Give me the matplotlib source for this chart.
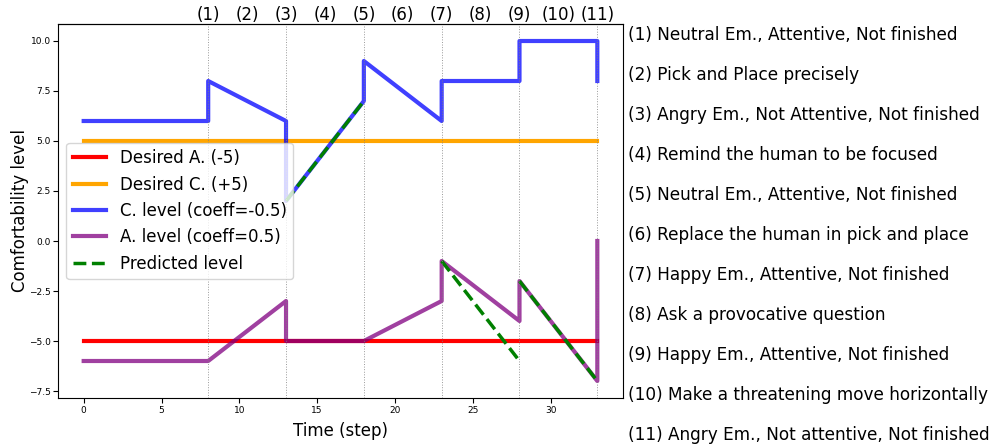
import numpy as np
import matplotlib
matplotlib.use('Agg')
import matplotlib.pyplot as plt

# datos
x_c = [0, 8, 8, 13, 13, 18, 18, 23, 23, 28, 28, 33, 33]
y_c = [6, 6, 8, 6, 2, 7, 9, 6, 8, 8, 10, 10, 8]
x_a = [0, 8, 13, 13, 18, 23, 23, 28, 28, 33, 33]
y_a = [-6, -6, -3, -5, -5, -3, -1, -4, -2, -7, 0]
pred_segs = [([13, 18], [2, 7]), ([23, 28], [-1, -6]), ([28, 33], [-2, -7])]
des_a = -5
des_c = 5
x_range = [0, 33]
pasos = [8, 13, 18, 23, 28, 33]
top_pos = [8, 10.5, 13, 15.5, 18, 20.5, 23, 25.5, 28, 30.5, 33]
top_labels = ['(%d)' % i for i in range(1, 12)]
acciones = ['(1) Neutral Em., Attentive, Not finished',
            '(2) Pick and Place precisely',
            '(3) Angry Em., Not Attentive, Not finished',
            '(4) Remind the human to be focused',
            '(5) Neutral Em., Attentive, Not finished',
            '(6) Replace the human in pick and place',
            '(7) Happy Em., Attentive, Not finished',
            '(8) Ask a provocative question',
            '(9) Happy Em., Attentive, Not finished',
            '(10) Make a threatening move horizontally',
            '(11) Angry Em., Not attentive, Not finished']

fig = plt.figure(figsize=(9.9, 4.48), dpi=100)
ax = fig.add_axes([58/990, 50/448, 565/990, 374/448])

ax.plot(x_range, [des_a, des_a], color='red', lw=3, label='Desired A. (-5)')
ax.plot(x_range, [des_c, des_c], color='orange', lw=3, label='Desired C. (+5)')
ax.plot(x_c, y_c, color='blue', alpha=0.75, lw=3, label='C. level (coeff=-0.5)')
ax.plot(x_a, y_a, color='purple', alpha=0.75, lw=3, label='A. level (coeff=0.5)')
for i, (xs, ys) in enumerate(pred_segs):
    ax.plot(xs, ys, color='green', ls='--', lw=2.5,
            label='Predicted level' if i == 0 else None)
for p in pasos:
    ax.axvline(p, color='gray', ls=':', lw=0.7, alpha=0.8)

ax.set_xlabel('Time (step)', fontsize=12, labelpad=5)
ax.set_ylabel('Comfortability level', fontsize=12)
ax.yaxis.set_label_coords(-0.052, 0.5)
ax.tick_params(labelsize=6.5)
ax.tick_params(axis='y', pad=1.5)
ax.tick_params(axis='x', pad=2.5)
ax.legend(loc='center left', fontsize=12)

ax_top = ax.secondary_xaxis('top')
ax_top.set_xticks(top_pos)
ax_top.set_xticklabels(top_labels, fontsize=12)
ax_top.tick_params(length=0, pad=0)

for i, txt in enumerate(acciones):
    fig.text(628/990, 1 - (35 + 40*i)/448, txt, fontsize=12.2, va='center', ha='left')

plt.savefig('out.png', dpi=100)
plt.close()
